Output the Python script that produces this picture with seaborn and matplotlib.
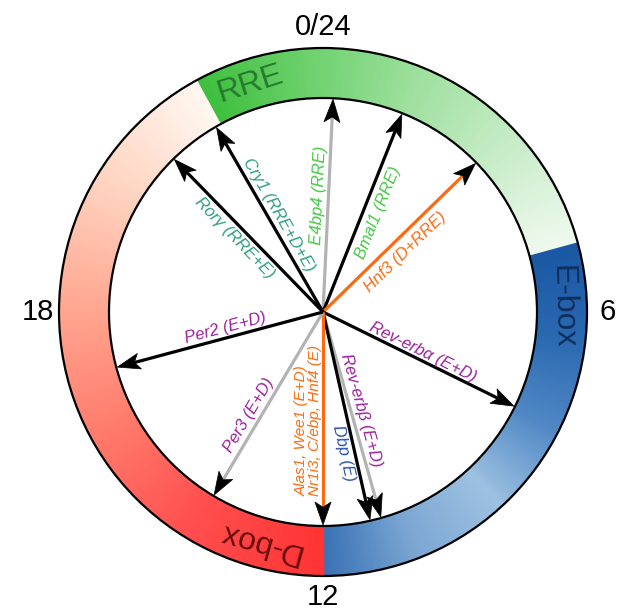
import numpy as np
import matplotlib.pyplot as plt
import seaborn as sns
from matplotlib.patches import Wedge, Circle, Polygon

# gene arrows: peak phase (h) and annotation
genes = ["E4bp4 (RRE)", "Bmal1 (RRE)", "Hnf3 (D+RRE)", "Rev-erbα (E+D)",
         "Rev-erbβ (E+D)", "Dbp (E)",
         "Alas1, Wee1 (E+D)\nNr1i3, C/ebp, Hnf4 (E)",
         "Per3 (E+D)", "Per2 (E+D)", "Rorγ (RRE+E)", "Cry1 (RRE+D+E)"]
phases = [0.18, 1.45, 3.05, 7.75, 10.95, 11.15, 12.0, 14.05, 17.0, 21.05, 22.0]
line_colors = ["#b3b3b3", "black", "#ff6a10", "black", "#b3b3b3", "black",
               "#ff6a10", "#b3b3b3", "black", "black", "black"]
label_colors = ["#45c845", "#45c845", "#ff6a10", "#9c1f9c", "#9c1f9c", "#2a50b0",
                "#ff6a10", "#9c1f9c", "#9c1f9c", "#2e9e80", "#2e9e80"]

# ring segments (clock hours) and their gradient stops
segments = ["RRE", "E-box", "D-box"]
seg_start = [22.1, 5.0, 12.0]
seg_end = [29.0, 12.0, 22.1]
seg_stops = [["#3dbf3d", "#6fd16f", "#a0e0a0", "#c8ecc8", "#eff9ef"],
             ["#1b58a3", "#2a68b0", "#5088c4", "#9dc1e1", "#7ca7d3", "#3a73b5"],
             ["#ff3434", "#ff4d4d", "#ff7a6a", "#ffa690", "#ffd3c0", "#fff7f0"]]
seg_text_colors = ["#257a2e", "#0d2f5e", "#6b0d0d"]
seg_label_phase = [22.82, 5.92, 13.03]

hours = [0, 6, 12, 18]
hour_labels = ["0/24", "6", "12", "18"]

# label layout: distance along arrow, sideways offset (clockwise side +)
label_r = [0.545, 0.525, 0.469, 0.502, 0.489, 0.664, 0.505, 0.594, 0.461, 0.535, 0.497]
label_d = [-0.047, 0.069, 0.069, -0.040, -0.049, 0.052, 0.068, 0.051, 0.048, -0.055, 0.047]
label_size = [12, 12, 12, 12, 12, 12, 11, 12, 12, 12, 12]

R_IN, R_OUT = 1.0, 264 / 214


def unit(h):
    t = np.deg2rad(h * 15)
    return np.array([np.sin(t), np.cos(t)]), np.array([np.cos(t), -np.sin(t)])


sns.set_theme(style="white")
plt.rcParams["font.family"] = ["Liberation Sans", "DejaVu Sans"]

fig, ax = plt.subplots(figsize=(6.21, 6.13), dpi=100)
fig.subplots_adjust(0, 0, 1, 1)
ax.set_xlim(-323 / 214, 298 / 214)
ax.set_ylim(-301 / 214, 312 / 214)
ax.set_aspect("equal")
ax.axis("off")

# gradient ring
n_steps = 240
for h0, h1, stops in zip(seg_start, seg_end, seg_stops):
    cols = sns.blend_palette(stops, n_colors=n_steps)
    edges = np.linspace(h0, h1, n_steps + 1)
    for i in range(n_steps):
        a0 = 90 - edges[i + 1] * 15
        a1 = 90 - edges[i] * 15
        ax.add_patch(Wedge((0, 0), R_OUT, a0, a1 + 0.3, width=R_OUT - R_IN,
                           facecolor=cols[i], edgecolor="none", zorder=1))

ax.add_patch(Circle((0, 0), R_OUT, fill=False, ec="black", lw=1.6, zorder=3))
ax.add_patch(Circle((0, 0), R_IN, fill=False, ec="black", lw=1.6, zorder=3))

for name, h, c in zip(segments, seg_label_phase, seg_text_colors):
    u, _ = unit(h)
    p = u * (R_IN + R_OUT) / 2
    rot = -h * 15
    ax.text(p[0], p[1], name, rotation=rot, rotation_mode="anchor",
            ha="center", va="center", fontsize=23, color=c, zorder=4)

for h, lab in zip(hours, hour_labels):
    u, _ = unit(h)
    p = u * 1.33
    ax.text(p[0], p[1], lab, ha="center", va="center", fontsize=21,
            color="black", zorder=4)

# arrows
L, W = 0.112, 0.075
for h, lc in zip(phases, line_colors):
    u, n = unit(h)
    end = u * (R_IN - 0.75 * L)
    ax.plot([0, end[0]], [0, end[1]], color=lc, lw=2.3,
            solid_capstyle="butt", zorder=5)
    tip = u * (R_IN - 0.005)
    back = u * (R_IN - L)
    head = [tip, back + n * W / 2, u * (R_IN - 0.78 * L), back - n * W / 2]
    ax.add_patch(Polygon(head, closed=True, fc="black", ec="black", lw=0.5, zorder=6))

for lab, h, r, d, c, fs in zip(genes, phases, label_r, label_d, label_colors, label_size):
    u, n = unit(h)
    p = u * r + n * d
    rot = 90 - h * 15
    while rot <= -90:
        rot += 180
    while rot > 90:
        rot -= 180
    ax.text(p[0], p[1], lab, rotation=rot, rotation_mode="anchor",
            ha="center", va="center", fontsize=fs, color=c, style="italic",
            multialignment="left", linespacing=1.0, zorder=7)

fig.savefig("out.png", dpi=100)
